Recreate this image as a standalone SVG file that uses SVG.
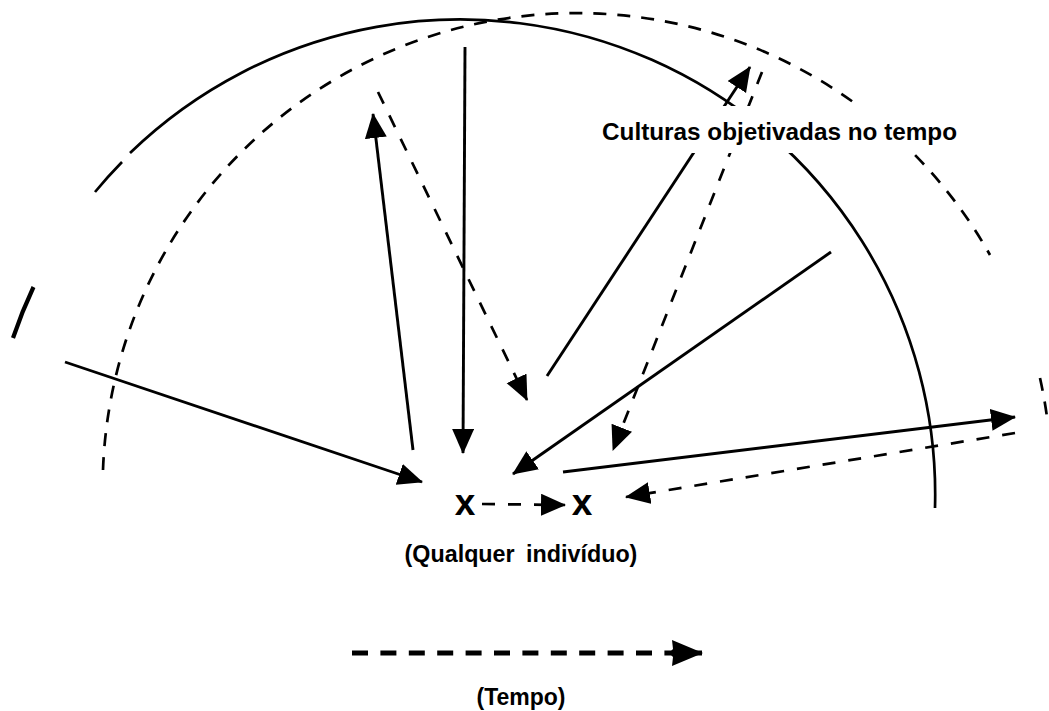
<svg xmlns="http://www.w3.org/2000/svg" width="1049" height="711" viewBox="0 0 1049 711">
  <defs>
    <style>
      .arc { fill: none; stroke: #000; stroke-width: 2.7; }
      .arc-dash { fill: none; stroke: #000; stroke-width: 2.7; stroke-dasharray: 13 11; }
      .solid { fill: none; stroke: #000; stroke-width: 2.9; marker-end: url(#head); }
      .dash { fill: none; stroke: #000; stroke-width: 2.7; stroke-dasharray: 13 13; marker-end: url(#head); }
      .lbl { font-family: "Liberation Sans", Arial, sans-serif; font-weight: bold; fill: #000; }
    </style>
    <marker id="head" markerUnits="userSpaceOnUse" markerWidth="26" markerHeight="24" refX="24" refY="11" orient="auto">
      <path d="M0,0 L25,11 L0,22 Z" fill="#000"/>
    </marker>
    <marker id="head-lg" markerUnits="userSpaceOnUse" markerWidth="36" markerHeight="28" refX="33" refY="13" orient="auto">
      <path d="M0,13 L4,9 L3,0 L34,13 L3,26 L4,17 Z" fill="#000"/>
    </marker>
  </defs>

  <rect width="1049" height="711" fill="#fff"/>

  <!-- outer solid arc -->
  <g id="solid-arc">
    <path d="M13,338 A475,475 0 0 1 33.5,287" fill="none" stroke="#000" stroke-width="4.2"/>
    <path class="arc" d="M95,192 A475,475 0 0 1 122,162"/>
    <path class="arc" d="M130,153 A475,475 0 0 1 935,508"/>
  </g>

  <!-- dashed arc -->
  <g id="dashed-arc">
    <path class="arc-dash" d="M103,470 A474,474 0 0 1 990,255"/>
    <path class="arc-dash" d="M1040,378 A474,474 0 0 1 1048,425"/>
  </g>

  <!-- connectors -->
  <g id="connectors">
    <path class="solid" d="M65,362 L422,482"/>
    <path class="solid" d="M413,450 L373,114"/>
    <path class="solid" d="M465,47 L463,453"/>
    <path class="dash" d="M378,92 L527,400"/>
    <path class="solid" d="M547,376 L750,67"/>
    <path class="dash" d="M762,72 L613,450"/>
    <path class="solid" d="M831,252 L513,474"/>
    <path class="solid" d="M563,472 L1015,417"/>
    <path class="dash" d="M1015,433 L626,497"/>
    <path class="dash" d="M482,504 L565,505" stroke-dasharray="11 17"/>
    <path d="M352,653 L702,653" fill="none" stroke="#000" stroke-width="5" stroke-dasharray="16 12.4" marker-end="url(#head-lg)"/>
  </g>

  <!-- heading label over the arcs -->
  <g id="label-culturas">
    <rect x="598" y="106" width="366" height="47" fill="#fff"/>
    <text class="lbl" x="602" y="140" font-size="24.3">Culturas objetivadas no tempo</text>
  </g>

  <g id="individual-a">
    <text class="lbl" x="465" y="515" font-size="37" text-anchor="middle">x</text>
  </g>
  <g id="individual-b">
    <text class="lbl" x="582" y="515" font-size="37" text-anchor="middle">x</text>
  </g>

  <g id="label-individuo">
    <text class="lbl" x="521" y="562" font-size="23.3" word-spacing="5" text-anchor="middle">(Qualquer indivíduo)</text>
  </g>

  <g id="label-tempo">
    <text class="lbl" x="521" y="705" font-size="23" text-anchor="middle">(Tempo)</text>
  </g>
</svg>
